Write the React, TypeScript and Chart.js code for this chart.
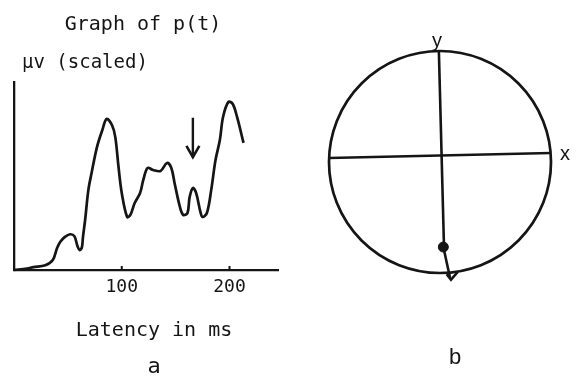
import { useEffect, useRef } from "react";
import { Chart, registerables } from "chart.js";

Chart.register(...registerables);

// ---- Panel a: evoked potential p(t) ----
const latencyMs = [
  0, 12, 18, 29, 36, 40, 43, 47, 52, 56, 59, 61, 63, 64, 66, 69, 72, 77, 82, 86,
  91, 94, 97, 100, 105, 108, 112, 117, 120, 124, 129, 136, 142, 146, 149, 154,
  157, 161, 163, 166, 169, 173, 175, 179, 183, 187, 191, 194, 199, 203, 207, 213,
];
const potential = [
  0, 0.8, 1.5, 2.5, 5.3, 11.7, 15, 17.5, 19, 18, 12.5, 10.6, 12, 17.5, 26.6, 42.5,
  51.6, 65.4, 74.5, 80.3, 77, 70.7, 54.8, 41, 28.2, 29.3, 35.6, 41, 47.9, 54.3,
  53.2, 52.7, 56.9, 54.3, 46.3, 33.5, 29.3, 30.3, 38.8, 43.6, 41, 30.9, 28.2,
  30.3, 42.5, 58.5, 69, 81.4, 89.4, 88.3, 81.4, 67.6,
];
const latencyTicks = [100, 200];
const arrowShaftX = [166, 166];
const arrowShaftY = [81, 60];
const arrowHeadX = [160, 166, 172];
const arrowHeadY = [66, 60, 66];

// ---- Panel b: unit circle with dipole vector ----
const horizAxisX = [-1, 1];
const horizAxisY = [0.036, 0.082];
const vertAxisX = [-0.01, 0.036];
const vertAxisY = [1, -0.77];
const dipoleX = [0.03];
const dipoleY = [-0.773];
const vectorStemX = [0.036, 0.09];
const vectorStemY = [-0.8, -1.05];
const vectorHeadX = [0.06, 0.099, 0.16];
const vectorHeadY = [-1.02, -1.07, -1.0];

const INK = "#151515";
const MONO = "'DejaVu Sans Mono', monospace";
const SANS = "'Liberation Sans', Arial, sans-serif";

const pts = (xs: number[], ys: number[]) => xs.map((x, i) => ({ x, y: ys[i] }));

type Caption = { text: string; x: number; y: number; font: string; align?: CanvasTextAlign };

const makeCaptions = (items: Caption[]) => ({
  id: "captions",
  afterDraw(chart: Chart) {
    const ctx = chart.ctx;
    ctx.save();
    ctx.fillStyle = INK;
    ctx.textBaseline = "alphabetic";
    for (const c of items) {
      ctx.font = c.font;
      ctx.textAlign = c.align ?? "center";
      ctx.fillText(c.text, c.x, c.y);
    }
    ctx.restore();
  },
});

// Short tick marks pointing up into the plot from the x axis
const innerTicks = {
  id: "innerTicks",
  afterDraw(chart: Chart) {
    const s = chart.scales.x;
    const ctx = chart.ctx;
    const y0 = chart.chartArea.bottom;
    ctx.save();
    ctx.strokeStyle = INK;
    ctx.lineWidth = 2;
    for (const t of s.ticks) {
      const px = s.getPixelForValue(t.value);
      ctx.beginPath();
      ctx.moveTo(px, y0);
      ctx.lineTo(px, y0 - 4);
      ctx.stroke();
    }
    ctx.restore();
  },
};

const lineSet = (data: { x: number; y: number }[], width = 2.6) => ({
  type: "line" as const,
  data,
  borderColor: INK,
  borderWidth: width,
  pointRadius: 0,
  fill: false,
  clip: false as const,
});

export default function App() {
  const refA = useRef<HTMLCanvasElement>(null);
  const refB = useRef<HTMLCanvasElement>(null);

  useEffect(() => {
    const chartA = new Chart(refA.current!, {
      type: "line",
      data: {
        datasets: [
          { ...lineSet(pts(latencyMs, potential), 2.7), tension: 0.35 },
          lineSet(pts(arrowShaftX, arrowShaftY), 2.4),
          lineSet(pts(arrowHeadX, arrowHeadY), 2.6),
        ],
      },
      options: {
        animation: false,
        responsive: false,
        events: [],
        layout: { padding: { left: 14, right: 12, top: 82, bottom: 76 } },
        plugins: { legend: { display: false }, tooltip: { enabled: false } },
        scales: {
          x: {
            type: "linear",
            min: 0,
            max: 245,
            afterBuildTicks: (s: any) => {
              s.ticks = latencyTicks.map((v) => ({ value: v }));
            },
            afterFit: (s: any) => {
              s.height = 30;
            },
            grid: { display: false, drawTicks: false },
            border: { display: true, color: INK, width: 2.3 },
            ticks: {
              color: INK,
              padding: 7,
              font: { family: MONO, size: 18 },
              maxRotation: 0,
            },
          },
          y: {
            type: "linear",
            min: 0,
            max: 100,
            afterFit: (s: any) => {
              s.width = 0;
            },
            grid: { display: false, drawTicks: false },
            border: { display: true, color: INK, width: 2.3 },
            ticks: { display: false },
          },
        },
      },
      plugins: [
        innerTicks,
        makeCaptions([
          { text: "Graph of p(t)", x: 143, y: 30, font: `20px ${MONO}` },
          { text: "\u03bcv (scaled)", x: 22, y: 68, font: `19px ${MONO}`, align: "left" },
          { text: "Latency in ms", x: 154, y: 336, font: `20px ${MONO}` },
          { text: "a", x: 154, y: 373, font: `22px ${MONO}` },
        ]),
      ],
    } as any);

    const chartB = new Chart(refB.current!, {
      type: "scatter",
      data: {
        datasets: [
          {
            type: "scatter",
            data: [{ x: 0, y: 0 }],
            pointStyle: "circle",
            pointRadius: (ctx: any) => {
              const s = ctx.chart.scales.x;
              return Math.abs(s.getPixelForValue(1) - s.getPixelForValue(0));
            },
            pointBackgroundColor: "rgba(0,0,0,0)",
            pointBorderColor: INK,
            pointBorderWidth: 2.7,
            clip: false,
          },
          lineSet(pts(horizAxisX, horizAxisY)),
          lineSet(pts(vertAxisX, vertAxisY)),
          lineSet(pts(vectorStemX, vectorStemY)),
          lineSet(pts(vectorHeadX, vectorHeadY)),
          {
            type: "scatter",
            data: pts(dipoleX, dipoleY),
            pointRadius: 5,
            pointBackgroundColor: INK,
            pointBorderColor: INK,
            pointBorderWidth: 1,
            clip: false,
          },
        ],
      },
      options: {
        animation: false,
        responsive: false,
        events: [],
        layout: { padding: { left: 39, right: 29, top: 52, bottom: 104 } },
        plugins: { legend: { display: false }, tooltip: { enabled: false } },
        scales: {
          x: { type: "linear", min: -1, max: 1, display: false },
          y: { type: "linear", min: -1, max: 1, display: false },
        },
      },
      plugins: [
        makeCaptions([
          { text: "y", x: 147, y: 47, font: `20px ${SANS}` },
          { text: "x", x: 275, y: 160, font: `20px ${SANS}` },
          { text: "b", x: 165, y: 364, font: `22px ${SANS}` },
        ]),
      ],
    } as any);

    return () => {
      chartA.destroy();
      chartB.destroy();
    };
  }, []);

  return (
    <div style={{ position: "fixed", left: 0, top: 0, width: 580, height: 376, background: "#fff" }}>
      <canvas ref={refA} width={290} height={376} style={{ position: "absolute", left: 0, top: 0, width: 290, height: 376 }} />
      <canvas ref={refB} width={290} height={376} style={{ position: "absolute", left: 290, top: 0, width: 290, height: 376 }} />
    </div>
  );
}
